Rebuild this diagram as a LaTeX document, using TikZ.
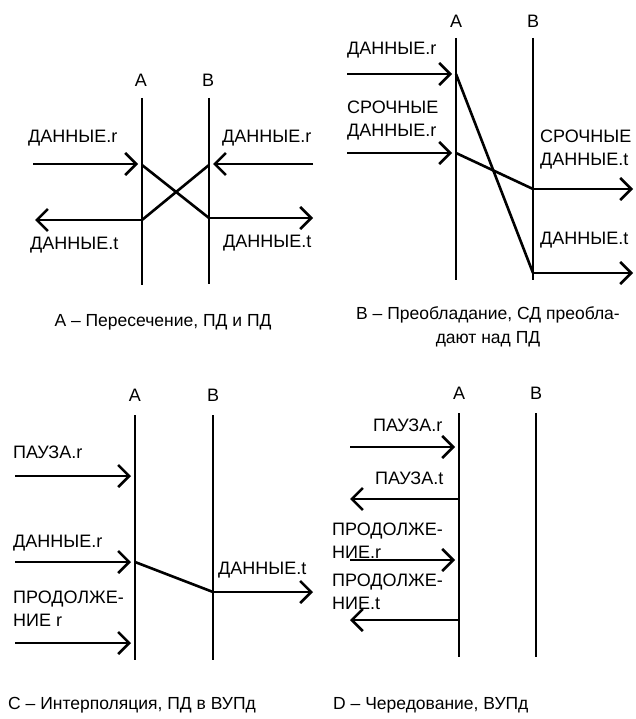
\documentclass[tikz,border=0pt]{standalone}
\usepackage{fontspec}
\setmainfont{Liberation Sans}
\usetikzlibrary{arrows.meta}
\begin{document}
\begin{tikzpicture}[x=1pt,y=-1pt,
  life/.style={line width=2.6pt},
  link/.style={line width=2.6pt},
  msg/.style={line width=2.6pt,-{Straight Barb[length=11pt,width=22pt,line width=2.6pt]}},
  lbl/.style={anchor=west,inner sep=0pt,font=\fontsize{18}{23}\selectfont,align=left},
  hdr/.style={inner sep=0pt,font=\fontsize{18}{23}\selectfont},
  captxt/.style={inner sep=0pt,font=\fontsize{17.5}{24}\selectfont,align=center}]
\useasboundingbox[fill=white] (0,0) rectangle (636,719);

% ---------- Diagram A ----------
\node[hdr] (hA1) at (141,80) {A};
\node[hdr] (hB1) at (208,80) {B};
\coordinate (a1t) at (142,98);  \coordinate (a1b) at (142,285);
\coordinate (b1t) at (209,98);  \coordinate (b1b) at (209,284);
\draw[life] (a1t) -- (a1b);
\draw[life] (b1t) -- (b1b);
\node[lbl] (l1) at (28,138) {ДАННЫЕ.r};
\node[lbl] (l2) at (222,138) {ДАННЫЕ.r};
\node[lbl] (l3) at (30,245) {ДАННЫЕ.t};
\node[lbl] (l4) at (223,243) {ДАННЫЕ.t};
\coordinate (pA1) at (33,164);  \coordinate (qA1) at (138,164);
\coordinate (pA2) at (313,164); \coordinate (qA2) at (213,164);
\coordinate (ar1) at (142,165); \coordinate (bt1) at (209,218); \coordinate (bt1e) at (313,218);
\coordinate (br1) at (209,165); \coordinate (at1) at (142,220); \coordinate (at1e) at (35,220);
\draw[msg] (pA1) -- (qA1);
\draw[msg] (pA2) -- (qA2);
\draw[link] (ar1) -- (bt1);
\draw[msg] (bt1) -- (bt1e);
\draw[link] (br1) -- (at1);
\draw[msg] (at1) -- (at1e);
\node[captxt] (capA) at (163,322) {A – Пересечение, ПД и ПД};

% ---------- Diagram B ----------
\node[hdr] (hA2) at (456,21) {A};
\node[hdr] (hB2) at (533,21) {B};
\coordinate (a2t) at (456,38);  \coordinate (a2b) at (456,280);
\coordinate (b2t) at (533,38);  \coordinate (b2b) at (533,280);
\draw[life] (a2t) -- (a2b);
\draw[life] (b2t) -- (b2b);
\node[lbl] (m1) at (347,50) {ДАННЫЕ.r};
\node[lbl] (m2) at (347,121) {СРОЧНЫЕ\\ДАННЫЕ.r};
\node[lbl] (m3) at (540,150) {СРОЧНЫЕ\\ДАННЫЕ.t};
\node[lbl] (m4) at (540,240) {ДАННЫЕ.t};
\coordinate (pB1) at (347,74);  \coordinate (qB1) at (452,74);
\coordinate (pB2) at (347,153); \coordinate (qB2) at (452,153);
\coordinate (ar2) at (456,74);  \coordinate (bt2) at (533,273); \coordinate (bt2e) at (633,273);
\coordinate (ar3) at (456,153); \coordinate (bt3) at (533,189); \coordinate (bt3e) at (633,189);
\draw[msg] (pB1) -- (qB1);
\draw[msg] (pB2) -- (qB2);
\draw[link] (ar2) -- (bt2);
\draw[link] (ar3) -- (bt3);
\draw[msg] (bt3) -- (bt3e);
\draw[msg] (bt2) -- (bt2e);
\node[captxt] (capB) at (488,327) {B – Преобладание, СД преобла-\\дают над ПД};

% ---------- Diagram C ----------
\node[hdr] (hA3) at (135,395) {A};
\node[hdr] (hB3) at (213,395) {B};
\coordinate (a3t) at (135,415);  \coordinate (a3b) at (135,660);
\coordinate (b3t) at (213,415);  \coordinate (b3b) at (213,660);
\draw[life] (a3t) -- (a3b);
\draw[life] (b3t) -- (b3b);
\node[lbl] (n1) at (13,452) {ПАУЗА.r};
\node[lbl] (n2) at (13,543) {ДАННЫЕ.r};
\node[lbl] (n3) at (218,570) {ДАННЫЕ.t};
\node[lbl] (n4) at (13,609) {ПРОДОЛЖЕ-\\НИЕ r};
\coordinate (pC1) at (15,476);  \coordinate (qC1) at (131,476);
\coordinate (pC2) at (15,562);  \coordinate (qC2) at (131,562);
\coordinate (pC3) at (15,643);  \coordinate (qC3) at (131,643);
\coordinate (ar4) at (135,562); \coordinate (bt4) at (213,592); \coordinate (bt4e) at (313,592);
\draw[msg] (pC1) -- (qC1);
\draw[msg] (pC2) -- (qC2);
\draw[msg] (pC3) -- (qC3);
\draw[link] (ar4) -- (bt4);
\draw[msg] (bt4) -- (bt4e);
\node[captxt,anchor=west] (capC) at (8,705) {C – Интерполяция, ПД в ВУПд};

% ---------- Diagram D ----------
\node[hdr] (hA4) at (459,393) {A};
\node[hdr] (hB4) at (536,393) {B};
\coordinate (a4t) at (459,413);  \coordinate (a4b) at (459,657);
\coordinate (b4t) at (536,413);  \coordinate (b4b) at (536,657);
\draw[life] (a4t) -- (a4b);
\draw[life] (b4t) -- (b4b);
\node[lbl] (o1) at (373,425) {ПАУЗА.r};
\node[lbl] (o2) at (375,478) {ПАУЗА.t};
\node[lbl] (o3) at (332,541) {ПРОДОЛЖЕ-\\НИЕ.r};
\node[lbl] (o4) at (332,592) {ПРОДОЛЖЕ-\\НИЕ.t};
\coordinate (pD1) at (350,447); \coordinate (qD1) at (455,447);
\coordinate (aD2) at (459,499); \coordinate (eD2) at (350,499);
\coordinate (pD3) at (350,560); \coordinate (qD3) at (455,560);
\coordinate (aD4) at (459,620); \coordinate (eD4) at (350,620);
\draw[msg] (pD1) -- (qD1);
\draw[msg] (aD2) -- (eD2);
\draw[msg] (pD3) -- (qD3);
\draw[msg] (aD4) -- (eD4);
\node[captxt,anchor=west] (capD) at (333,705) {D – Чередование, ВУПд};
\end{tikzpicture}
\end{document}
